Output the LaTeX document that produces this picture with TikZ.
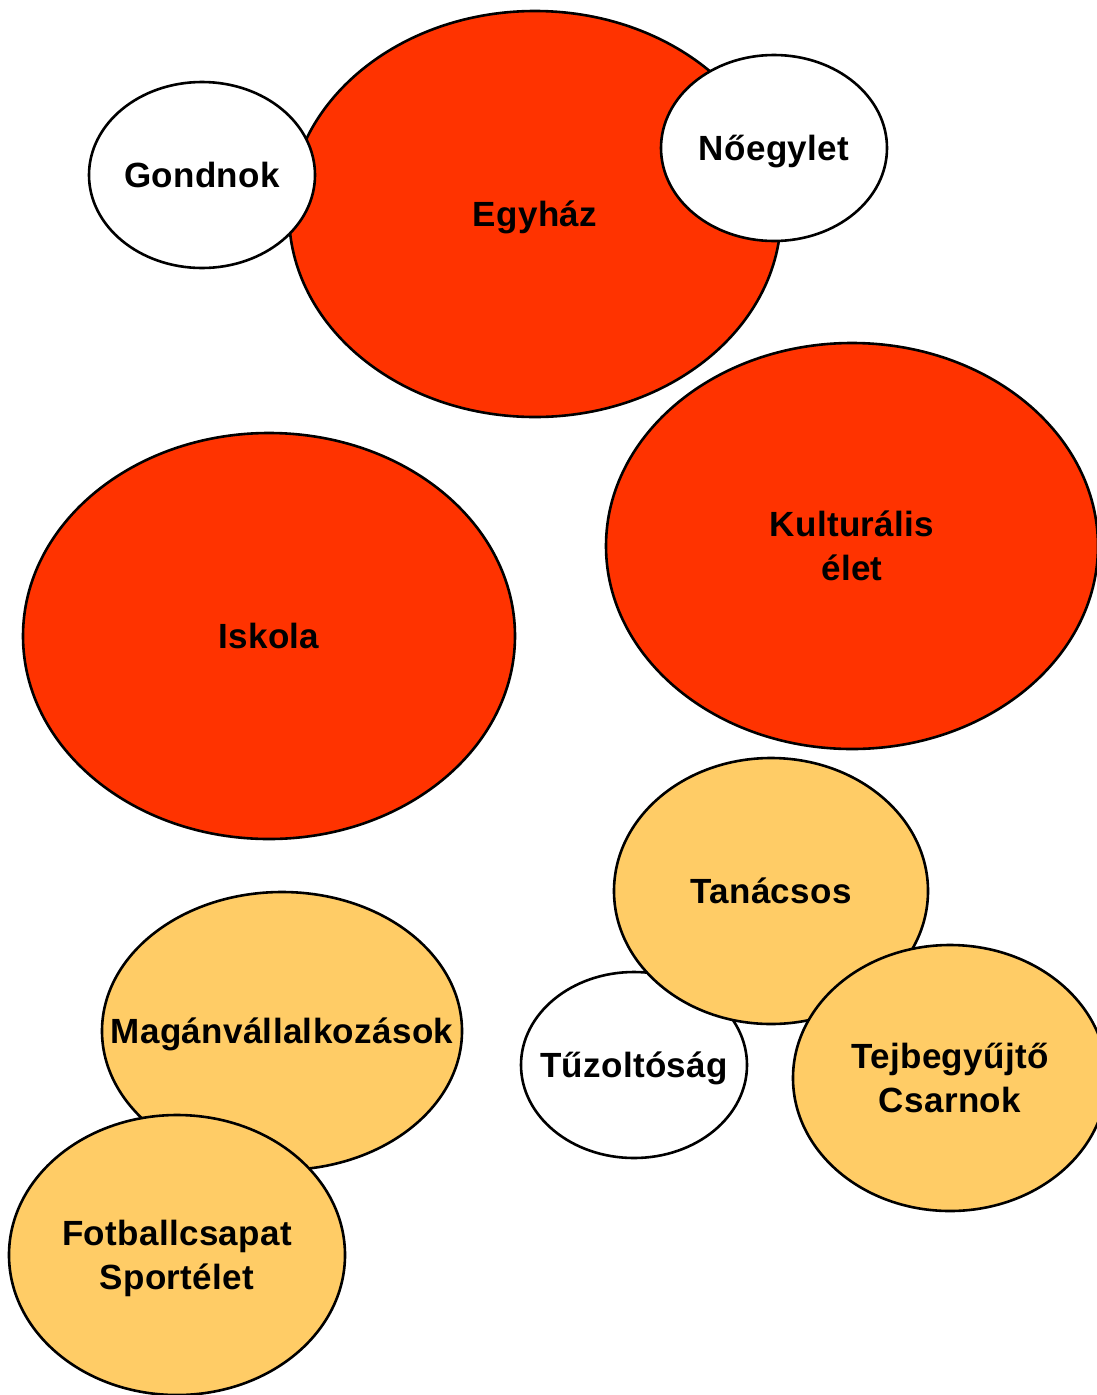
\documentclass[tikz,border=0pt]{standalone}
\usepackage{fontspec}
\setmainfont{Liberation Sans}[LetterSpace=1]
\usetikzlibrary{shapes.geometric}
\definecolor{piros}{HTML}{FF3300}
\definecolor{sarga}{HTML}{FFCC66}
\newcommand{\szo}[1]{\makebox[0pt]{#1}}

\begin{document}
\begin{tikzpicture}[x=1pt,y=-1pt,
  kor/.style={ellipse,draw=black,line width=2.6pt,inner sep=0pt,align=center,
    text depth=0pt,font=\fontsize{35}{44}\selectfont\bfseries},
  nagy/.style={kor,fill=piros,minimum width=492pt,minimum height=406pt},
  kicsi/.style={kor,fill=white,minimum width=226pt,minimum height=186pt},
  kozep/.style={kor,fill=sarga}]
\useasboundingbox (0,0) rectangle (1097,1395);
% egyhaz
\node[nagy] (egyhaz) at (535,214) {\szo{Egyház}};
\node[kicsi] (gondnok) at (202,175) {\szo{Gondnok}};
\node[kicsi] (noegylet) at (774,148) {\szo{Nőegylet}};
% iskola, kultura
\node[nagy] (iskola) at (269,636) {\szo{Iskola}};
\node[nagy] (kultura) at (852,546) {\szo{Kulturális}\\\szo{élet}};
% falu
\node[kicsi] (tuzoltosag) at (634,1065) {\szo{Tűzoltóság}};
\node[kozep,minimum width=314pt,minimum height=266pt] (tanacsos) at (771,891) {\szo{Tanácsos}};
\node[kozep,minimum width=314pt,minimum height=266pt] (tejcsarnok) at (950,1078) {\szo{Tejbegyűjtő}\\\szo{Csarnok}};
\node[kozep,minimum width=360pt,minimum height=278pt] (magan) at (282,1031) {\szo{Magánvállalkozások}};
\node[kozep,minimum width=336pt,minimum height=280pt] (foci) at (177,1255) {\szo{Fotballcsapat}\\\szo{Sportélet}};
\end{tikzpicture}
\end{document}
